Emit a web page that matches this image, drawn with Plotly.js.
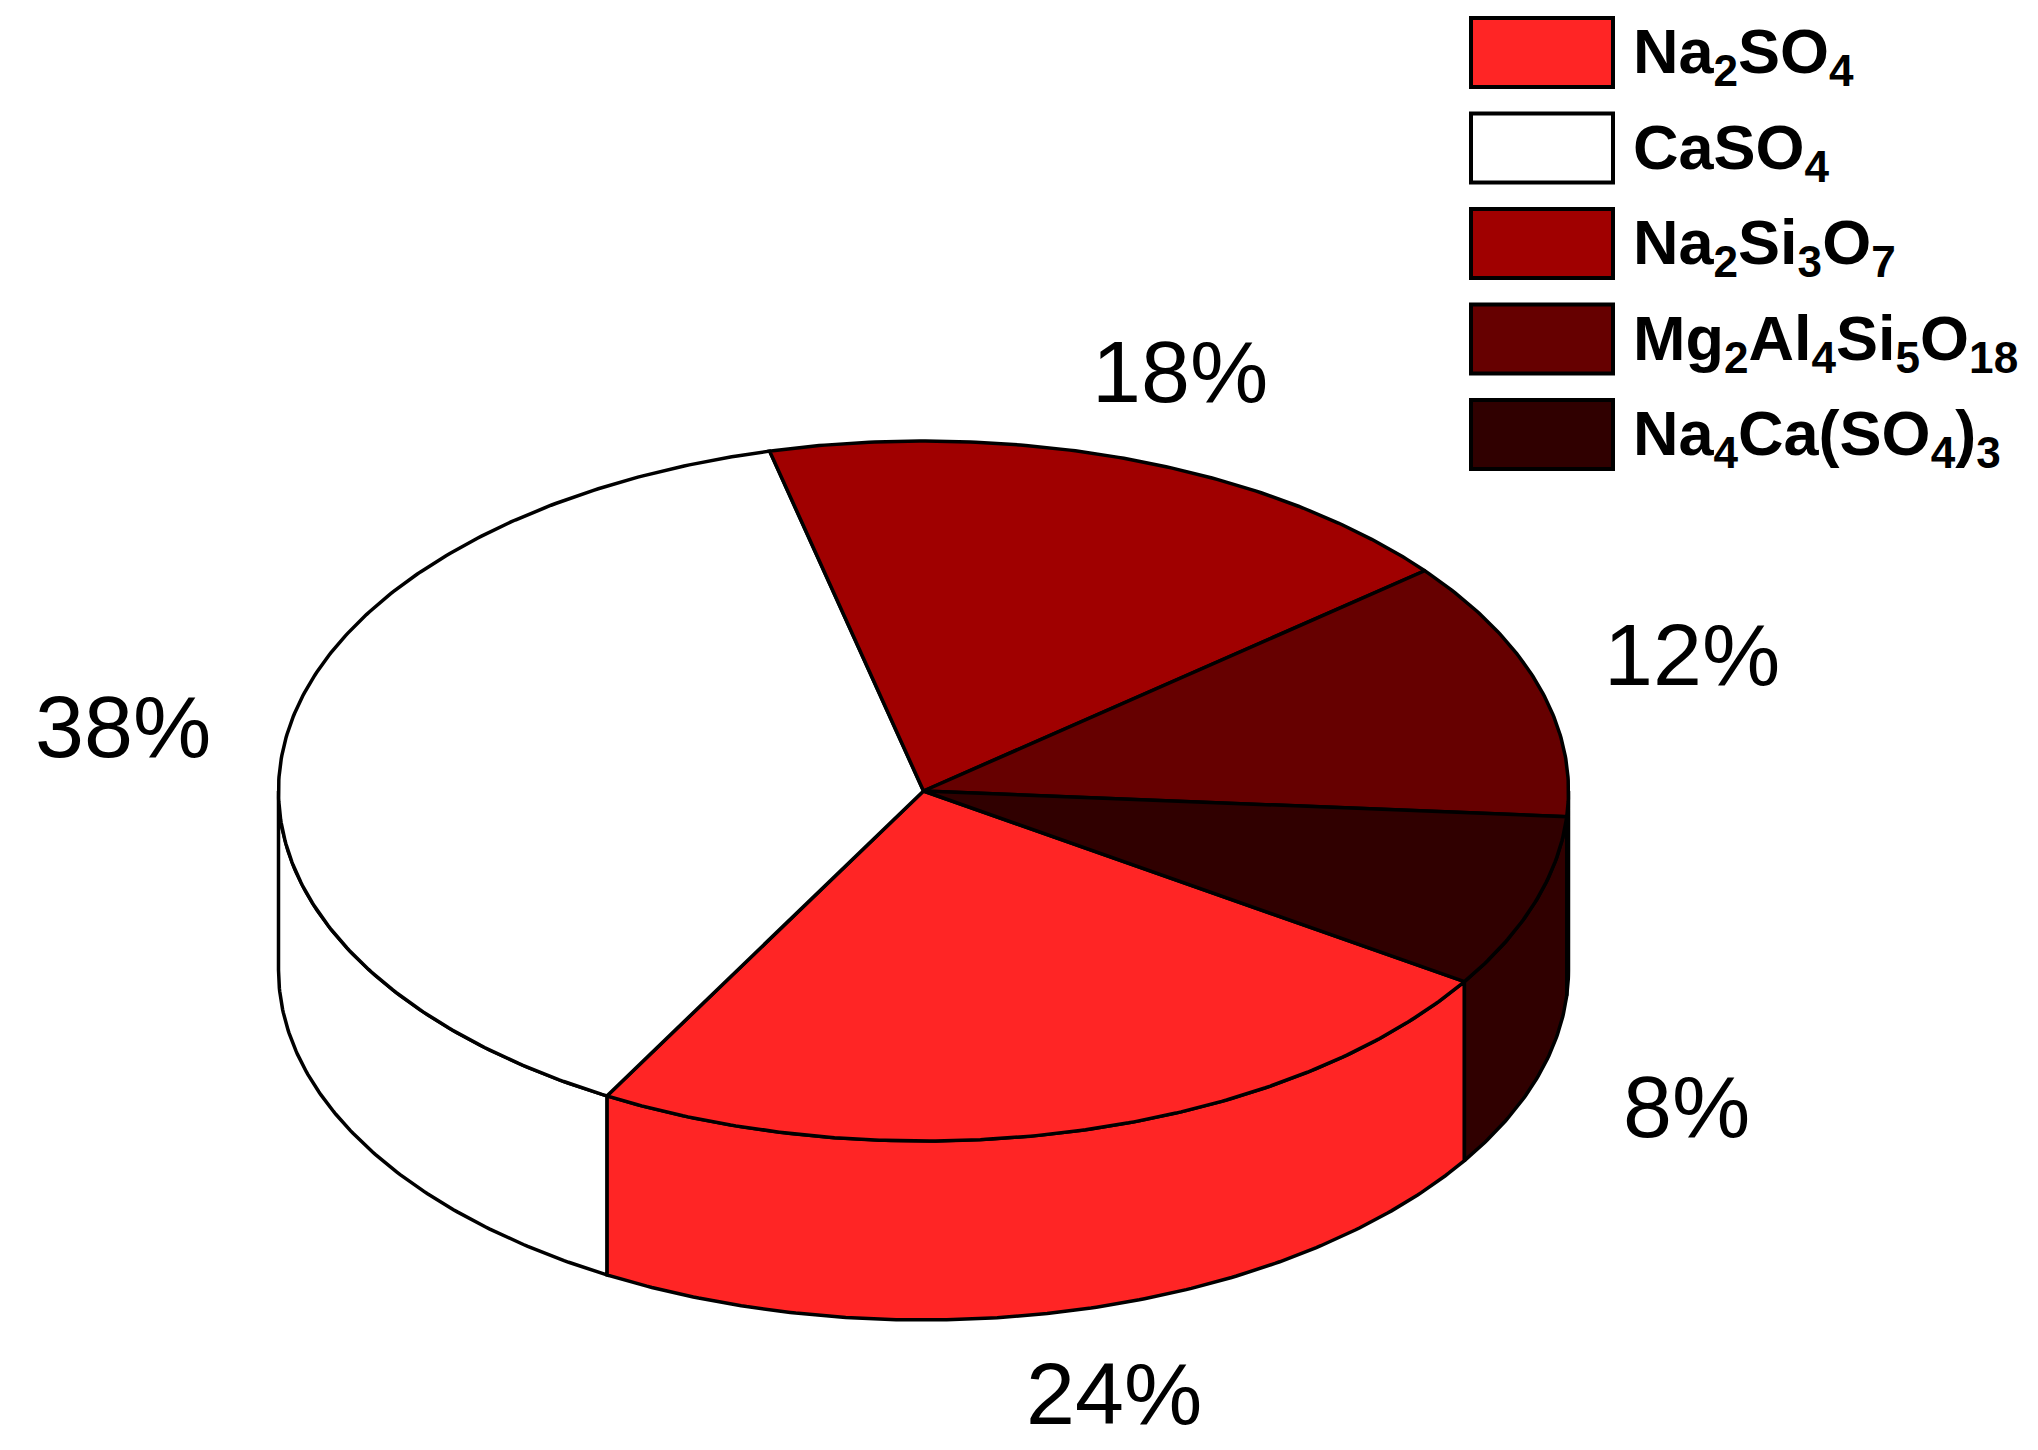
<!DOCTYPE html>
<html>
<head>
<meta charset="utf-8">
<script src="https://cdn.plot.ly/plotly-3.0.1.min.js"></script>
<style>
  html, body { margin: 0; padding: 0; background: #fff; }
  #chart { width: 2038px; height: 1450px; }
</style>
</head>
<body>
<div id="chart"></div>
<script>
// Values, in legend order
const compounds = ['Na<sub>2</sub>SO<sub>4</sub>', 'CaSO<sub>4</sub>', 'Na<sub>2</sub>Si<sub>3</sub>O<sub>7</sub>',
    'Mg<sub>2</sub>Al<sub>4</sub>Si<sub>5</sub>O<sub>18</sub>', 'Na<sub>4</sub>Ca(SO<sub>4</sub>)<sub>3</sub>'];
const shares = [24, 38, 18, 12, 8];
const colors = ['#ff2525', '#ffffff', '#a00000', '#660000', '#300000'];

// Where each percent label sits, in page pixels
const labelX = [1114, 123, 1180, 1692, 1686];
const labelY = [1393, 726, 371, 654, 1106];

// Pie geometry: the axes below run in page pixels
const cx = 923.5, cy = 791, rx = 645, ry = 350, depth = 179;
const startAngle = -33; // degrees, first slice goes clockwise from here
const lineWidth = 3.5;
const swatch = { x0: 1471, x1: 1613, y0: 18, h: 69, step: 95.5 };
const font = '"Liberation Sans", Arial, sans-serif';

function arc(from, to, dy) {
    const xs = [], ys = [];
    const n = Math.max(2, Math.ceil(Math.abs(from - to) * 2));
    for (let i = 0; i <= n; i++) {
        const t = (from + (to - from) * i / n) * Math.PI / 180;
        xs.push(cx + rx * Math.cos(t));
        ys.push(cy - ry * Math.sin(t) + dy);
    }
    return { xs, ys };
}

function polygon(x, y, color) {
    return {
        x, y, type: 'scatter', mode: 'lines', fill: 'toself', fillcolor: color,
        line: { color: '#000', width: lineWidth }, hoverinfo: 'skip', showlegend: false
    };
}

const walls = [];
const tops = [];
let angle = startAngle;
shares.forEach((share, i) => {
    const a1 = angle;
    const a2 = angle - share * 3.6;
    angle = a2;

    // Top face
    const rim = arc(a1, a2, 0);
    tops.push(polygon([cx, ...rim.xs, cx], [cy, ...rim.ys, cy], colors[i]));

    // Side wall, only the part of the rim facing the viewer (0 to -180 degrees)
    [[0, -180], [-360, -540]].forEach(([hi, lo]) => {
        const w1 = Math.min(a1, hi);
        const w2 = Math.max(a2, lo);
        if (w1 <= w2) return;
        const upper = arc(w1, w2, 0);
        const lower = arc(w2, w1, depth);
        walls.push(polygon([...upper.xs, ...lower.xs, upper.xs[0]], [...upper.ys, ...lower.ys, upper.ys[0]], colors[i]));
    });
});

const annotations = [];
const shapes = [];
shares.forEach((share, i) => {
    annotations.push({
        x: labelX[i], y: labelY[i], xref: 'x', yref: 'y', text: share + '%', showarrow: false,
        xanchor: 'center', yanchor: 'middle', font: { family: font, size: 88, color: '#000' }
    });
});
compounds.forEach((name, i) => {
    const top = swatch.y0 + i * swatch.step;
    shapes.push({
        type: 'rect', xref: 'x', yref: 'y', x0: swatch.x0, x1: swatch.x1, y0: top, y1: top + swatch.h,
        fillcolor: colors[i], line: { color: '#000', width: 4 }
    });
    annotations.push({
        x: 1631, y: top + swatch.h / 2 + 3, xref: 'x', yref: 'y', text: '<b>' + name + '</b>', showarrow: false,
        xanchor: 'left', yanchor: 'middle', font: { family: font, size: 63, color: '#000' }
    });
});

const layout = {
    width: 2038, height: 1450,
    margin: { l: 0, r: 0, t: 0, b: 0 },
    paper_bgcolor: '#fff', plot_bgcolor: '#fff',
    showlegend: false,
    xaxis: { range: [0, 2038], visible: false, fixedrange: true },
    yaxis: { range: [1450, 0], visible: false, fixedrange: true },
    shapes, annotations
};

Plotly.newPlot('chart', [...walls, ...tops], layout, { displayModeBar: false, staticPlot: true });
</script>
</body>
</html>
